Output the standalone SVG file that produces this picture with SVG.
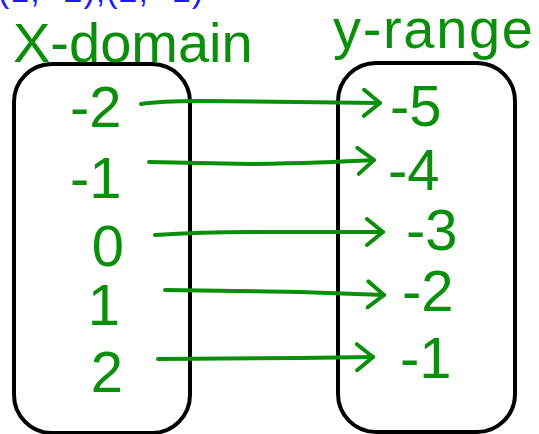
<svg xmlns="http://www.w3.org/2000/svg" width="539" height="434" viewBox="0 0 539 434">
  <style>
    .box { fill: none; stroke: #000; stroke-width: 4; }
    .ink { fill: #0a8f0a; font-family: "Liberation Sans", Arial, sans-serif; }
    .title { font-size: 56px; }
    .num { font-size: 58px; }
    .pts { fill: #1a1aff; font-family: "Liberation Sans", Arial, sans-serif; font-size: 34px; }
    .link { fill: none; stroke: #0a8f0a; stroke-width: 4; stroke-linecap: round; }
  </style>
  <defs>
    <marker id="chev" viewBox="0 0 20 30" refX="18" refY="15" markerWidth="20" markerHeight="30" markerUnits="userSpaceOnUse" orient="auto">
      <path d="M2,2 L18,15 L2,28" fill="none" stroke="#0a8f0a" stroke-width="4" stroke-linecap="round" stroke-linejoin="round"/>
    </marker>
  </defs>
  <rect width="539" height="434" fill="#fff"/>

  <!-- ordered pairs along the top edge -->
  <text class="pts" x="-2" y="2" textLength="205">(1, -2),(2, -1)</text>

  <!-- domain set -->
  <g id="domain">
    <rect class="box" x="14" y="64" width="176" height="369" rx="38" ry="38"/>
    <text class="ink title" x="13" y="62">X-domain</text>
  </g>
  <!-- range set -->
  <g id="range">
    <rect class="box" x="338" y="63" width="177" height="369" rx="38" ry="38"/>
    <text class="ink title" x="333" y="48" font-size="52" textLength="200">y-range</text>
  </g>

  <!-- domain values -->
  <g id="x-neg2"><text class="ink num" x="70" y="127">-2</text></g>
  <g id="x-neg1"><text class="ink num" x="70" y="198">-1</text></g>
  <g id="x-0"><text class="ink num" x="108" y="266" text-anchor="middle" font-size="62">0</text></g>
  <g id="x-1"><text class="ink num" x="104" y="325" text-anchor="middle">1</text></g>
  <g id="x-2"><text class="ink num" x="107" y="392" text-anchor="middle">2</text></g>

  <!-- range values -->
  <g id="y-neg5"><text class="ink num" x="390" y="126">-5</text></g>
  <g id="y-neg4"><text class="ink num" x="388" y="190">-4</text></g>
  <g id="y-neg3"><text class="ink num" x="406" y="250">-3</text></g>
  <g id="y-neg2"><text class="ink num" x="402" y="311">-2</text></g>
  <g id="y-neg1"><text class="ink num" x="400" y="378">-1</text></g>

  <!-- mapping arrows -->
  <g id="connectors">
    <path class="link" d="M141,104 Q160,101 200,101 L380,103" marker-end="url(#chev)"/>
    <path class="link" d="M149,162 L250,164 Q320,163 374,160" marker-end="url(#chev)"/>
    <path class="link" d="M155,235 Q200,232 250,232 L383,232" marker-end="url(#chev)"/>
    <path class="link" d="M165,290 L300,292 L384,295" marker-end="url(#chev)"/>
    <path class="link" d="M158,359 L300,358 L373,357" marker-end="url(#chev)"/>
  </g>
</svg>
